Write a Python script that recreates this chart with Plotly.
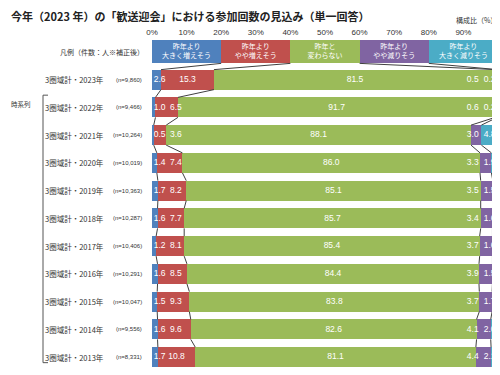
import plotly.graph_objects as go

years = ["2023年", "2022年", "2021年", "2020年", "2019年", "2018年",
         "2017年", "2016年", "2015年", "2014年", "2013年"]
n_labels = ["9,860", "9,466", "10,264", "10,019", "10,363", "10,287",
            "10,406", "10,291", "10,047", "9,556", "8,331"]
big_up = [2.6, 1.0, 0.5, 1.4, 1.7, 1.6, 1.2, 1.6, 1.5, 1.6, 1.7]
slight_up = [15.3, 6.5, 3.6, 7.4, 8.2, 7.7, 8.1, 8.5, 9.3, 9.6, 10.8]
same = [81.5, 91.7, 88.1, 86.0, 85.1, 85.7, 85.4, 84.4, 83.8, 82.6, 81.1]
slight_down = [0.5, 0.6, 3.0, 3.3, 3.5, 3.4, 3.7, 3.9, 3.7, 4.1, 4.4]
big_down = [0.2, 0.2, 4.8, 1.9, 1.5, 1.6, 1.6, 1.5, 1.7, 2.0, 2.1]
legend_labels = ["昨年より<br>大きく増えそう", "昨年より<br>やや増えそう", "昨年と<br>変わらない",
                 "昨年より<br>やや減りそう", "昨年より<br>大きく減りそう"]
legend_share = [20, 20, 20, 20, 20]
tick_vals = [0, 10, 20, 30, 40, 50, 60, 70, 80, 90, 100]
tick_text = [f"{v}%" for v in tick_vals]

colors = ["#4F81BD", "#C0504D", "#9BBB59", "#8064A2", "#4BACC6"]
JP = "Noto Sans CJK JP"
NUM = "Liberation Sans, Arial, sans-serif"

# page is shown with an 8px body margin; figure sized so it ends at the window edge
OFF = 8
FIG_W, FIG_H = 500 - OFF, 375 - OFF
PLOT_L, PLOT_R = 152, 498      # page pixels of 0% and 100%
PLOT_T, PLOT_B = 38, 371

legend_cat = "凡例"
row_names = ["3圏域計・" + y for y in years]
cats = [legend_cat] + row_names
series = [big_up, slight_up, same, slight_down, big_down]

BAR_W = 0.72
LEG_W = 0.83

fig = go.Figure()

for i, c in enumerate(colors):
    fig.add_trace(go.Bar(y=[legend_cat], x=[legend_share[i]], orientation="h",
                         marker=dict(color=c, line=dict(width=0)), width=LEG_W,
                         showlegend=False, hoverinfo="skip"))
for i, c in enumerate(colors):
    fig.add_trace(go.Bar(y=row_names, x=series[i], orientation="h",
                         marker=dict(color=c, line=dict(width=0)), width=BAR_W,
                         showlegend=False))
fig.update_layout(barmode="stack")

leg_mid = []
s = 0
for v in legend_share:
    leg_mid.append(s + v / 2)
    s += v
fig.add_trace(go.Scatter(x=leg_mid, y=[legend_cat] * 5, mode="text", text=legend_labels,
                         textfont=dict(color="white", size=7, family=JP),
                         showlegend=False, hoverinfo="skip"))

bx, rx, gx, px, cx = [], [], [], [], []
for k in range(len(years)):
    b, r, g, p, cy = big_up[k], slight_up[k], same[k], slight_down[k], big_down[k]
    bx.append(max(b / 2, 2.2))
    rx.append(max(b + r / 2, 6.9))
    gx.append(b + r + g / 2)
    px.append(min(b + r + g + p / 2, 92.7))
    cx.append(min(b + r + g + p + cy / 2, 97.6))
for xs, vals in zip([bx, rx, gx, px, cx], series):
    fig.add_trace(go.Scatter(x=xs, y=row_names, mode="text",
                             text=[f"{v:.1f}" for v in vals],
                             textfont=dict(color="white", size=8.5, family=NUM),
                             showlegend=False, hoverinfo="skip"))


def cum_bounds(vals):
    out, s = [], 0
    for v in vals[:-1]:
        s += v
        out.append(s)
    return out


rows_bounds = [cum_bounds(legend_share)] + [cum_bounds([sr[k] for sr in series]) for k in range(len(years))]
widths = [LEG_W] + [BAR_W] * len(years)
shapes = []
for i in range(len(rows_bounds) - 1):
    for a, b in zip(rows_bounds[i], rows_bounds[i + 1]):
        shapes.append(dict(type="line", xref="x", yref="y",
                           x0=a, x1=b, y0=i + widths[i] / 2, y1=i + 1 - widths[i + 1] / 2,
                           line=dict(color="#404040", width=1)))


def px2paper(p):
    return (p - PLOT_L) / float(PLOT_R - PLOT_L)


def py2paper(p):
    return (PLOT_B - p) / float(PLOT_B - PLOT_T)


shapes.append(dict(type="path", xref="paper", yref="y",
                   path=f"M {px2paper(48)},1.56 L {px2paper(43)},1.56 L {px2paper(43)},11.2 L {px2paper(48)},11.2",
                   line=dict(color="#555555", width=1)))

annotations = []
for k, name in enumerate(row_names):
    annotations.append(dict(xref="paper", yref="y", x=px2paper(106), y=name, text=name,
                            showarrow=False, xanchor="right",
                            font=dict(size=7.5, color="#333333", family=JP)))
    annotations.append(dict(xref="paper", yref="y", x=px2paper(144), y=name,
                            text=f"(n={n_labels[k]})", showarrow=False, xanchor="right",
                            font=dict(size=6, color="#333333", family=NUM)))
annotations.append(dict(xref="paper", yref="y", x=px2paper(146), y=legend_cat,
                        text="凡例（件数：人※補正後）", showarrow=False, xanchor="right",
                        font=dict(size=7, color="#333333", family=JP)))
annotations.append(dict(xref="paper", yref="paper", x=px2paper(OFF + 1), y=py2paper(104),
                        text="時系列", showarrow=False, xanchor="left", yanchor="middle",
                        font=dict(size=6.5, color="#333333", family=JP)))
annotations.append(dict(xref="paper", yref="paper", x=px2paper(499), y=py2paper(20),
                        text="構成比（%）", showarrow=False, xanchor="right", yanchor="middle",
                        font=dict(size=7, color="#333333", family=JP)))
annotations.append(dict(xref="paper", yref="paper", x=px2paper(OFF + 1), y=py2paper(16),
                        text="<b>今年（2023 年）の「歓送迎会」における参加回数の見込み（単一回答）</b>",
                        showarrow=False, xanchor="left", yanchor="middle",
                        font=dict(size=11, color="#222222", family=JP)))

fig.update_layout(
    width=FIG_W, height=FIG_H,
    margin=dict(l=PLOT_L - OFF, r=FIG_W - (PLOT_R - OFF), t=PLOT_T - OFF, b=FIG_H - (PLOT_B - OFF)),
    paper_bgcolor="white", plot_bgcolor="white",
    xaxis=dict(range=[0, 100], side="top", tickvals=tick_vals, ticktext=tick_text,
               showgrid=False, zeroline=False, showline=False, ticks="", ticklen=0,
               automargin=False,
               tickfont=dict(size=8, color="#333333", family=NUM), fixedrange=True),
    yaxis=dict(type="category", categoryorder="array", categoryarray=cats,
               range=[len(cats) - 0.5, -0.5], showticklabels=False, showgrid=False,
               zeroline=False, showline=False, ticks="", automargin=False),
    shapes=shapes, annotations=annotations,
)

fig.write_html("out.html")
